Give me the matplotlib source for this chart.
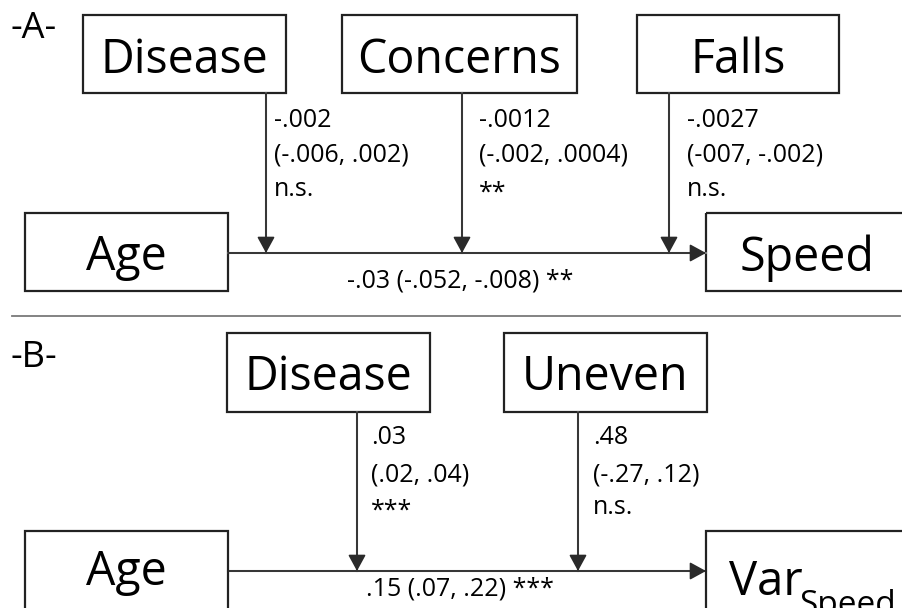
import matplotlib
matplotlib.use("Agg")
import matplotlib.pyplot as plt
from matplotlib.patches import Rectangle

# ---- data ----
panel_labels = ["-A-", "-B-"]
a_moderators = ["Disease", "Concerns", "Falls"]
a_coef = ["-.002", "-.0012", "-.0027"]
a_ci = ["(-.006, .002)", "(-.002, .0004)", "(-007, -.002)"]
a_sig = ["n.s.", "**", "n.s."]
a_main = "-.03 (-.052, -.008) **"
a_pred, a_out = "Age", "Speed"

b_moderators = ["Disease", "Uneven"]
b_coef = [".03", ".48"]
b_ci = ["(.02, .04)", "(-.27, .12)"]
b_sig = ["***", "n.s."]
b_main = ".15 (.07, .22) ***"
b_pred, b_out, b_out_sub = "Age", "Var", "Speed"

FONT = "Open Sans"
BIG = 33.5
SMALL = 18
LINEC = "#7a7a7a"
BOXC = "#222222"

fig = plt.figure(figsize=(9.02, 6.08), dpi=100)
ax = fig.add_axes([0, 0, 1, 1])
ax.set_xlim(0, 902)
ax.set_ylim(608, 0)
ax.axis("off")


def box(x0, y0, x1, y1, open_bottom=False):
    if open_bottom:
        ax.plot([x0, x0, x1, x1], [y1, y0, y0, y1], color=BOXC, lw=1.6,
                solid_joinstyle="miter")
    else:
        ax.add_patch(Rectangle((x0, y0), x1 - x0, y1 - y0, fill=False,
                               ec=BOXC, lw=1.6))


def arrow(x0, y0, x1, y1):
    ax.annotate("", xy=(x1, y1), xytext=(x0, y0),
                arrowprops=dict(arrowstyle="-|>,head_length=0.55,head_width=0.3",
                                color="#2a2a2a", lw=1.2, shrinkA=0, shrinkB=0,
                                mutation_scale=18))
    ax.plot([x0, x1], [y0, y1], color=LINEC, lw=1.5, zorder=1)


def txt(x, y, s, size, ha="left"):
    ax.text(x, y, s, fontsize=size, family=FONT, ha=ha, va="baseline",
            color="black")


# ---- Panel A ----
txt(11, 38, panel_labels[0], 26)
a_boxes = [(83, 15, 286), (342, 15, 577), (637, 15, 839)]
a_arrow_x = [266, 462, 669]
a_text_x = [274, 479, 687]
line_y_a = 253
for name, (x0, y0, x1), ax_x, tx, c, ci, sg in zip(a_moderators, a_boxes, a_arrow_x,
                                                   a_text_x, a_coef, a_ci, a_sig):
    box(x0, y0, x1, 93)
    txt((x0 + x1) / 2, 73, name, BIG, ha="center")
    arrow(ax_x, 93, ax_x, line_y_a)
    txt(tx, 127, c, SMALL)
    txt(tx, 162, ci, SMALL)
    txt(tx, 196 if sg == "n.s." else 200, sg, SMALL)

box(25, 213, 228, 291)
txt(126, 270, a_pred, BIG, ha="center")
box(706, 213, 915, 291)
txt(807, 271, a_out, BIG, ha="center")
arrow(228, line_y_a, 706, line_y_a)
txt(460, 287, a_main, SMALL, ha="center")

# separator
ax.plot([12, 900], [316, 316], color=LINEC, lw=1.3)

# ---- Panel B ----
txt(11, 367, panel_labels[1], 26)
b_boxes = [(227, 333, 430), (504, 333, 707)]
b_arrow_x = [357, 578]
b_text_x = [371, 593]
line_y_b = 571
for name, (x0, y0, x1), ax_x, tx, c, ci, sg in zip(b_moderators, b_boxes, b_arrow_x,
                                                   b_text_x, b_coef, b_ci, b_sig):
    box(x0, y0, x1, 412)
    txt((x0 + x1) / 2, 390, name, BIG, ha="center")
    arrow(ax_x, 412, ax_x, line_y_b)
    txt(tx, 444, c, SMALL)
    txt(tx, 481, ci, SMALL)
    txt(tx, 514 if sg == "n.s." else 518, sg, SMALL)

box(25, 531, 228, 640, open_bottom=True)
txt(126, 585, b_pred, BIG, ha="center")
box(706, 531, 915, 640, open_bottom=True)
txt(729, 595, b_out, 34)
txt(799, 614, b_out_sub, 24)
arrow(228, line_y_b, 706, line_y_b)
txt(460, 595, b_main, SMALL, ha="center")

fig.savefig("out.png", dpi=100)
